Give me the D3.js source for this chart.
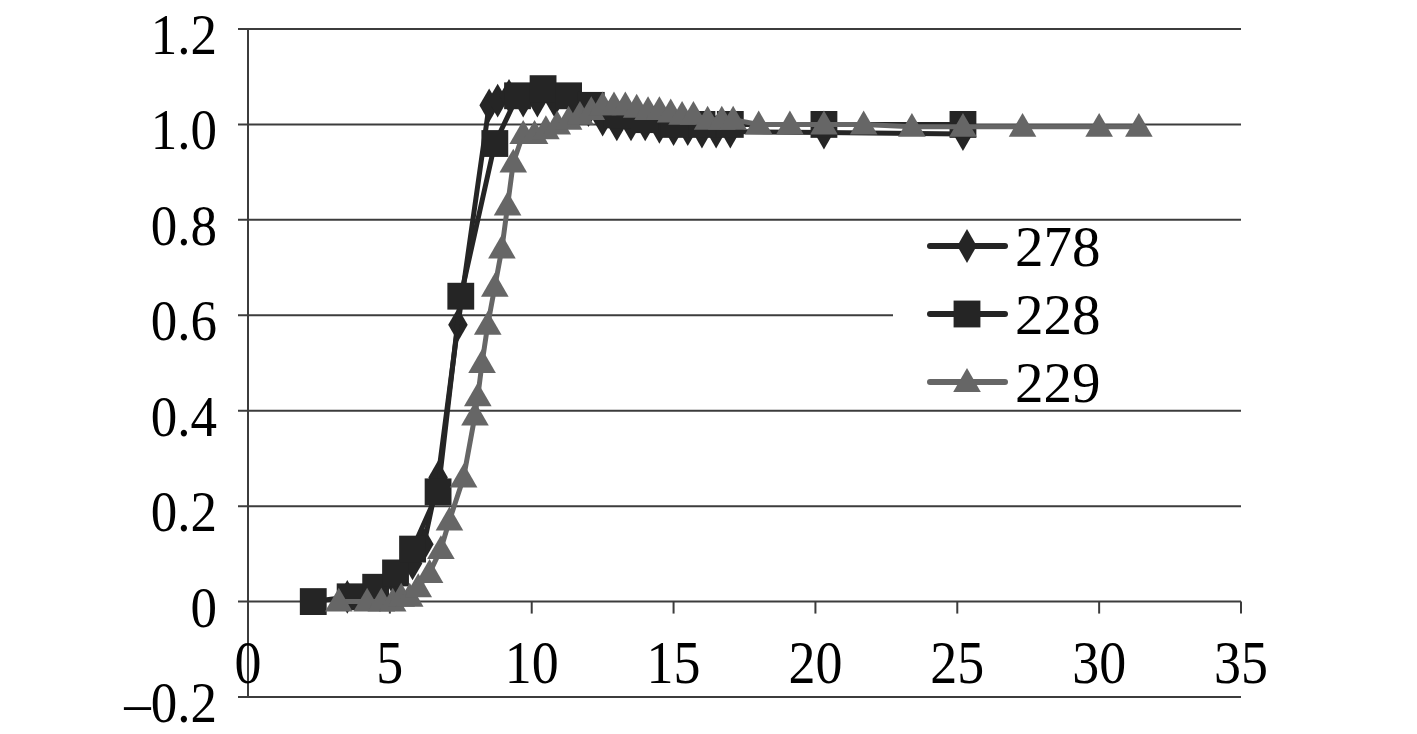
<!DOCTYPE html>
<html><head><meta charset="utf-8">
<script src="https://cdn.jsdelivr.net/npm/d3@7"></script>
<style>html,body{margin:0;padding:0;background:#fff;}svg{display:block;}</style>
</head><body>
<svg id="c" width="1417" height="734"></svg>
<script>
const seriesNames = ["278", "228", "229"];
const xTicks = [0, 5, 10, 15, 20, 25, 30, 35];
const yTicks = [-0.2, 0, 0.2, 0.4, 0.6, 0.8, 1.0, 1.2];
const yTickLabels = ["–0.2", "0", "0.2", "0.4", "0.6", "0.8", "1.0", "1.2"];

const s278x = [3.5, 4.5, 5.2, 5.8, 6.2, 6.7, 7.4, 8.5, 8.8, 9.2, 9.7, 10.2, 10.8, 11.5, 12.0, 12.5, 13.0, 13.5, 14.0, 14.5, 15.0, 15.5, 16.0, 16.5, 17.0, 20.3, 25.2];
const s278y = [0.01, 0.02, 0.04, 0.08, 0.12, 0.26, 0.58, 1.04, 1.05, 1.06, 1.05, 1.05, 1.05, 1.05, 1.03, 1.01, 1.0, 1.0, 1.0, 0.995, 0.99, 0.99, 0.985, 0.985, 0.985, 0.983, 0.98];

const s228x = [2.3, 3.6, 4.5, 5.2, 5.8, 6.7, 7.5, 8.7, 9.5, 10.4, 11.3, 12.1, 13.0, 14.0, 15.0, 16.0, 17.0, 20.3, 25.2];
const s228y = [0.0, 0.01, 0.03, 0.06, 0.11, 0.23, 0.64, 0.96, 1.06, 1.075, 1.06, 1.04, 1.02, 1.01, 1.0, 1.0, 1.0, 1.0, 1.0];

const s229x = [3.2, 4.2, 4.7, 5.1, 5.4, 5.7, 6.0, 6.4, 6.8, 7.1, 7.6, 8.0, 8.1, 8.25, 8.45, 8.7, 8.95, 9.15, 9.35, 9.7, 10.1, 10.5, 10.9, 11.3, 11.7, 12.1, 12.5, 12.9, 13.3, 13.7, 14.1, 14.5, 14.9, 15.3, 15.7, 16.2, 16.7, 17.1, 18.0, 19.1, 20.3, 21.7, 23.4, 25.2, 27.3, 30.0, 31.4];
const s229y = [0.0, 0.0, 0.0, 0.0, 0.01, 0.01, 0.03, 0.06, 0.11, 0.17, 0.26, 0.39, 0.43, 0.5, 0.58, 0.66, 0.74, 0.83, 0.92, 0.98, 0.98, 0.99, 1.0, 1.01, 1.02, 1.03, 1.04, 1.04, 1.04, 1.035, 1.03, 1.03, 1.025, 1.02, 1.02, 1.01, 1.01, 1.01, 1.0, 1.0, 1.0, 1.0, 0.995, 0.995, 0.995, 0.995, 0.995];

const svg = d3.select("#c");
const L = 248, R = 1241, T = 29, B = 697;
const x = d3.scaleLinear().domain([0, 35]).range([L, R]);
const y = d3.scaleLinear().domain([-0.2, 1.2]).range([B, T]);
const gridColor = "#3c3c3c";
const font = "'Liberation Serif','Times New Roman',serif";

// gridlines
svg.append("g").selectAll("line").data(yTicks).join("line")
  .attr("x1", L - 10).attr("x2", R)
  .attr("y1", d => y(d)).attr("y2", d => y(d))
  .attr("stroke", gridColor).attr("stroke-width", 2);
// y axis line
svg.append("line").attr("x1", L).attr("x2", L).attr("y1", T).attr("y2", B)
  .attr("stroke", gridColor).attr("stroke-width", 2);
// x axis ticks (at y=0)
svg.append("g").selectAll("line").data(xTicks).join("line")
  .attr("x1", d => x(d)).attr("x2", d => x(d))
  .attr("y1", y(0)).attr("y2", y(0) + 12)
  .attr("stroke", gridColor).attr("stroke-width", 2);

// y labels
svg.append("g").selectAll("text").data(yTicks).join("text")
  .attr("transform", d => `translate(217,${y(d) + 25}) scale(1,1.06)`)
  .attr("text-anchor", "end")
  .attr("font-family", font).attr("font-size", 53).attr("fill", "#000")
  .text((d, i) => yTickLabels[i]);
// x labels
svg.append("g").selectAll("text").data(xTicks).join("text")
  .attr("transform", d => `translate(${x(d)},683) scale(1,1.12)`)
  .attr("text-anchor", "middle")
  .attr("font-family", font).attr("font-size", 54).attr("fill", "#000")
  .text(d => d);

const series = [
  {name: seriesNames[0], xs: s278x, ys: s278y, color: "#252525", shape: d3.symbolDiamond, size: 330, sx: 1},
  {name: seriesNames[1], xs: s228x, ys: s228y, color: "#252525", shape: d3.symbolSquare, size: 720, sx: 1},
  {name: seriesNames[2], xs: s229x, ys: s229y, color: "#666666", shape: d3.symbolTriangle, size: 330, sx: 1}
];

const line = d3.line().x(d => x(d[0])).y(d => y(d[1]));
series.forEach(s => {
  const pts = s.xs.map((v, i) => [v, s.ys[i]]);
  const g = svg.append("g");
  g.append("path").attr("d", line(pts)).attr("fill", "none")
    .attr("stroke", s.color).attr("stroke-width", 5).attr("stroke-linejoin", "round");
  g.selectAll("path.m").data(pts).join("path").attr("class", "m")
    .attr("d", d3.symbol().type(s.shape).size(s.size))
    .attr("transform", d => `translate(${x(d[0])},${y(d[1]) + (s.shape === d3.symbolTriangle ? 2 : 0)}) scale(${s.sx},1)`)
    .attr("fill", s.color);
});

// legend
const lg = svg.append("g");
lg.append("rect").attr("x", 893).attr("y", 222).attr("width", R - 893 + 1).attr("height", 186).attr("fill", "#fff");
series.forEach((s, i) => {
  const cy = 246 + i * 68;
  lg.append("line").attr("x1", 930).attr("x2", 1005).attr("y1", cy).attr("y2", cy)
    .attr("stroke", s.color).attr("stroke-width", 6).attr("stroke-linecap", "round");
  lg.append("path").attr("d", d3.symbol().type(s.shape).size(s.size))
    .attr("transform", `translate(967,${cy + (s.shape === d3.symbolTriangle ? 2 : 0)}) scale(${s.sx},1)`)
    .attr("fill", s.color);
  lg.append("text").attr("x", 1015).attr("y", cy + 20)
    .attr("font-family", font).attr("font-size", 57).attr("fill", "#000").text(s.name);
});
</script>
</body></html>
